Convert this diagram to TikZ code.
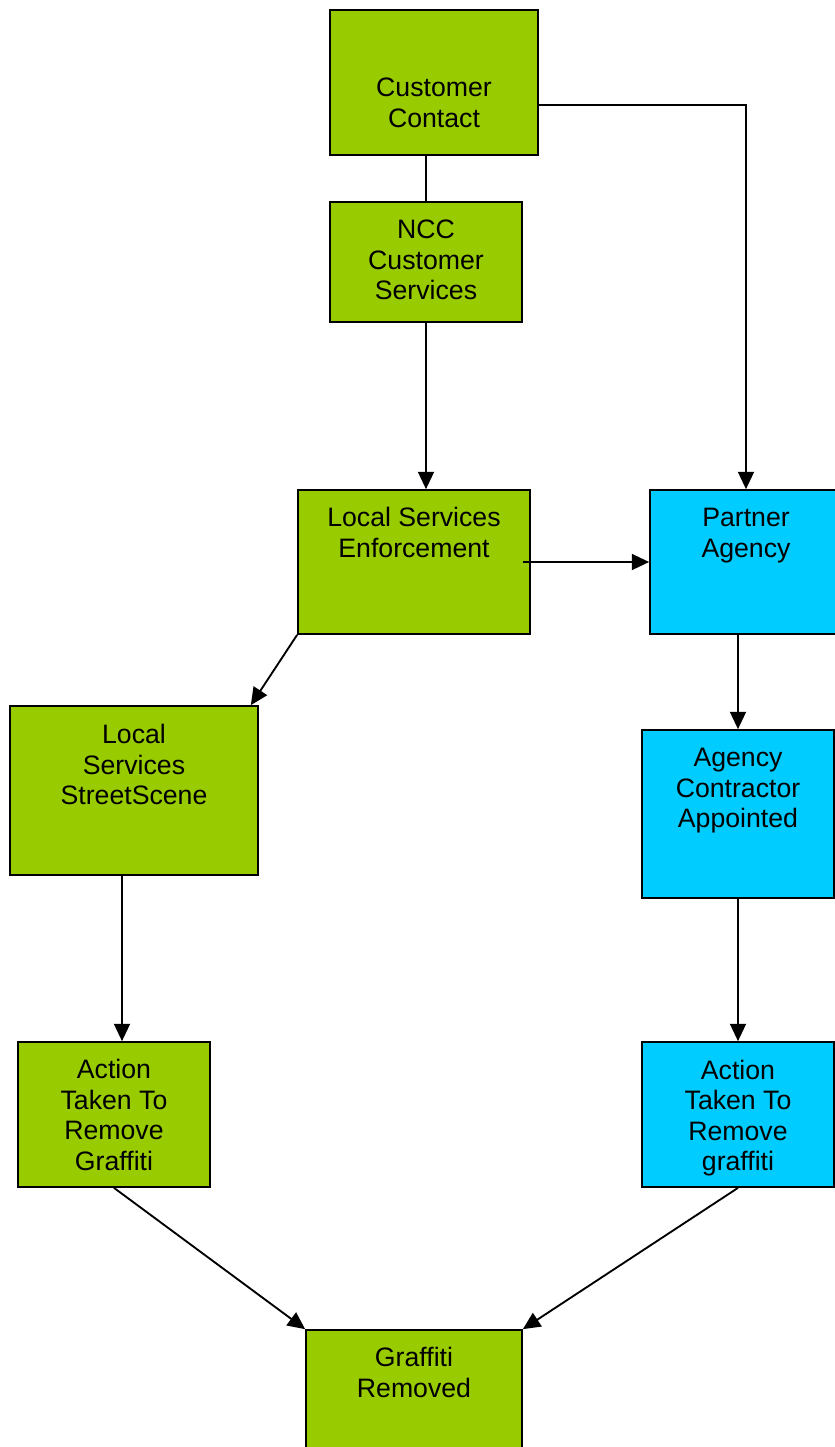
\documentclass[tikz,border=0pt]{standalone}
\usepackage{fontspec}
\setmainfont{Liberation Sans}
\usepackage{tikz}
\usetikzlibrary{arrows.meta,positioning,calc}
\definecolor{vertc}{HTML}{99CC00}
\definecolor{bleuc}{HTML}{00CCFF}

\begin{document}
\begin{tikzpicture}[x=0.75pt,y=-0.75pt,
  gbox/.style={draw,line width=1.3pt,fill=vertc,inner sep=0pt},
  bbox/.style={gbox,fill=bleuc},
  txt/.style={font=\fontsize{20}{22.9}\selectfont,align=center,inner sep=0pt},
  fl/.style={-{Triangle[length=13pt,width=12pt]},line width=1.4pt},
  ln/.style={line width=1.4pt}]
  \clip (0,0) rectangle (835,1447);
  % ---- top: contact and services
  \node[gbox,minimum width=156pt,minimum height=108.75pt] (cc) at (434,82.5) {};
  \node[txt] (cc-t) at (434,103) {Customer\\Contact};
  \node[gbox,minimum width=144pt,minimum height=90pt] (ncc) at (426,262) {};
  \node[txt] (ncc-t) at (426,260) {NCC\\Customer\\Services};
  % ---- middle row
  \node[gbox,minimum width=174pt,minimum height=108pt] (lse) at (414,562) {};
  \node[txt] (lse-t) at (414,532.5) {Local Services\\Enforcement};
  \node[bbox,minimum width=144pt,minimum height=108pt] (pa) at (746,562) {};
  \node[txt] (pa-t) at (746,535.5) {Partner\\Agency};
  % ---- left branch
  \node[gbox,minimum width=186pt,minimum height=126.75pt] (lss) at (134,790.5) {};
  \node[txt] (lss-t) at (134,764.5) {Local\\Services\\StreetScene};
  \node[gbox,minimum width=144pt,minimum height=108.75pt] (atg) at (114,1114.5) {};
  \node[txt] (atg-t) at (114,1115) {Action\\Taken To\\Remove\\Graffiti};
  % ---- right branch
  \node[bbox,minimum width=144pt,minimum height=126pt] (aca) at (738,814) {};
  \node[txt] (aca-t) at (738,791) {Agency\\Contractor\\Appointed};
  \node[bbox,minimum width=144pt,minimum height=108.75pt] (atb) at (738,1114.5) {};
  \node[txt] (atb-t) at (738,1118) {Action\\Taken To\\Remove\\graffiti};
  % ---- end
  \node[gbox,minimum width=162pt,minimum height=108pt] (gr) at (414,1402) {};
  \node[txt] (gr-t) at (414,1372.5) {Graffiti\\Removed};
  % ---- connectors
  \draw[ln] (ncc.north) -- (ncc.north |- cc.south);
  \draw[fl] (ncc.south) -- (ncc.south |- lse.north);
  \draw[fl] ([yshift=-16.9pt]cc.east) -| (pa.north);
  \draw[fl] ([xshift=-6pt]lse.east) -- (pa.west);
  \draw[fl] (lse.south west) -- ([xshift=-6pt]lss.north east);
  \draw[fl] (pa.south -| aca.north) -- (aca.north);
  \draw[fl] ([xshift=-9pt]lss.south) -- ([xshift=-9pt]lss.south |- atg.north);
  \draw[fl] (aca.south) -- (atb.north);
  \draw[fl] (atg.south) -- (gr.north west);
  \draw[fl] (atb.south) -- (gr.north east);
\end{tikzpicture}
\end{document}
